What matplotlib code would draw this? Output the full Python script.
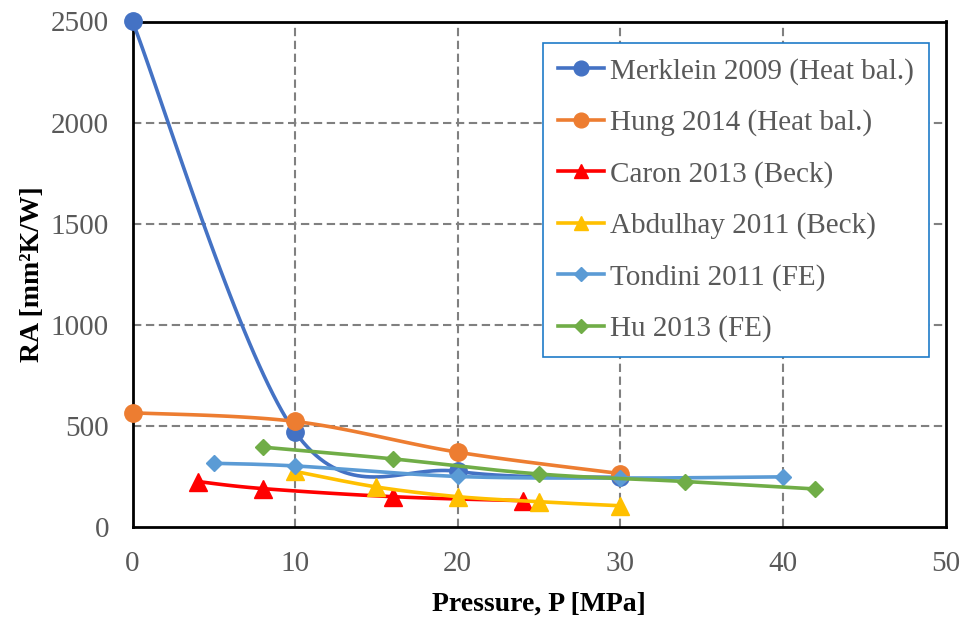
import numpy as np
import matplotlib
matplotlib.use("Agg")
import matplotlib.pyplot as plt
from matplotlib.lines import Line2D

plt.rcParams['font.family'] = ['Liberation Serif', 'DejaVu Serif']

# ---- data -------------------------------------------------------------
labels = ["Merklein 2009 (Heat bal.)", "Hung 2014 (Heat bal.)", "Caron 2013 (Beck)",
          "Abdulhay 2011 (Beck)", "Tondini 2011 (FE)", "Hu 2013 (FE)"]

p_merklein = [0, 10, 20, 30]
ra_merklein = [2500, 470, 275, 245]

p_hung = [0, 10, 20, 30]
ra_hung = [565, 522, 370, 264]

p_caron = [4, 8, 16, 24]
ra_caron = [225, 190, 150, 130]

p_abdulhay = [10, 15, 20, 25, 30]
ra_abdulhay = [275, 198, 150, 125, 105]

p_tondini = [5, 10, 20, 30, 40]
ra_tondini = [315, 302, 250, 242, 248]

p_hu = [8, 16, 25, 34, 42]
ra_hu = [395, 337, 262, 225, 188]

x_ticks = [0, 10, 20, 30, 40, 50]
y_ticks = [0, 500, 1000, 1500, 2000, 2500]

# ---- styling ----------------------------------------------------------
series = [
    (p_merklein, ra_merklein, "#4472C4", "o", 12.5),
    (p_hung, ra_hung, "#ED7D31", "o", 12.5),
    (p_caron, ra_caron, "#FF0000", "^", 12.5),
    (p_abdulhay, ra_abdulhay, "#FFC000", "^", 12.5),
    (p_tondini, ra_tondini, "#5B9BD5", "D", 8.5),
    (p_hu, ra_hu, "#70AD47", "D", 8.5),
]


def smooth_curve(x, y, n=40):
    """Cubic Bezier smoothing through every point (Catmull-Rom style tangents)."""
    P = np.column_stack([x, y]).astype(float)
    out = []
    for i in range(len(P) - 1):
        p0 = P[i - 1] if i > 0 else P[i]
        p1, p2 = P[i], P[i + 1]
        p3 = P[i + 2] if i + 2 < len(P) else P[i + 1]
        c1 = p1 + (p2 - p0) / 6.0
        c2 = p2 - (p3 - p1) / 6.0
        t = np.linspace(0, 1, n)[:, None]
        seg = ((1 - t) ** 3) * p1 + 3 * ((1 - t) ** 2) * t * c1 \
            + 3 * (1 - t) * (t ** 2) * c2 + (t ** 3) * p2
        out.append(seg if i == 0 else seg[1:])
    return np.vstack(out)


fig = plt.figure(figsize=(9.63, 6.2), dpi=100)
left_px, right_px, top_px, bottom_px = 132.5, 945.5, 21.5, 527
ax = fig.add_axes([left_px / 963, 1 - bottom_px / 620,
                   (right_px - left_px) / 963, (bottom_px - top_px) / 620])

ax.set_xlim(0, 50)
ax.set_ylim(0, 2500)

# dashed grid on the inner tick positions
grid_kw = dict(color="#808080", lw=1.5, linestyle=(0, (4, 2.2)), zorder=0.5)
for xv in x_ticks[1:-1]:
    ax.axvline(xv, **grid_kw)
for yv in y_ticks[1:-1]:
    ax.axhline(yv, **grid_kw)

handles = []
for k, (xs, ys, color, marker, ms) in enumerate(series):
    curve = smooth_curve(xs, ys)
    ax.plot(curve[:, 0], curve[:, 1], color=color, lw=2.6,
            solid_capstyle="round", zorder=2 + k, clip_on=False)
    ax.plot(xs, ys, linestyle="none", marker=marker, ms=ms, color=color,
            markeredgecolor=color, zorder=2 + k, clip_on=False)
    handles.append(Line2D([], [], color=color, lw=2.6, marker=marker, ms=ms * 0.85,
                          markeredgecolor=color))

ax.set_xticks(x_ticks)
ax.set_yticks(y_ticks)
ax.tick_params(axis="both", length=0, labelsize=21, labelcolor="#595959")
ax.tick_params(axis="x", pad=17)
ax.tick_params(axis="y", pad=17)

for side in ("top", "right", "left", "bottom"):
    ax.spines[side].set_color("black")
    ax.spines[side].set_linewidth(2.0)
    ax.spines[side].set_zorder(1)

ax.set_xlabel("Pressure, P [MPa]", fontsize=20, fontweight="bold", color="black", labelpad=11)
ax.set_ylabel("RA [mm²K/W]", fontsize=20, fontweight="bold", color="black", labelpad=4)

leg = ax.legend(handles, labels, loc="upper right",
                bbox_to_anchor=(928.5 / 963, 1 - 43.5 / 620), bbox_transform=fig.transFigure,
                borderaxespad=0, fontsize=21, handlelength=1.6, handletextpad=0.2,
                labelspacing=0.84, borderpad=0.5, fancybox=False, framealpha=1,
                edgecolor="#1F7BC8", facecolor="white")
leg.get_frame().set_linewidth(1.2)
for txt in leg.get_texts():
    txt.set_color("#595959")
leg.set_zorder(20)

fig.savefig("out.png", dpi=100)
